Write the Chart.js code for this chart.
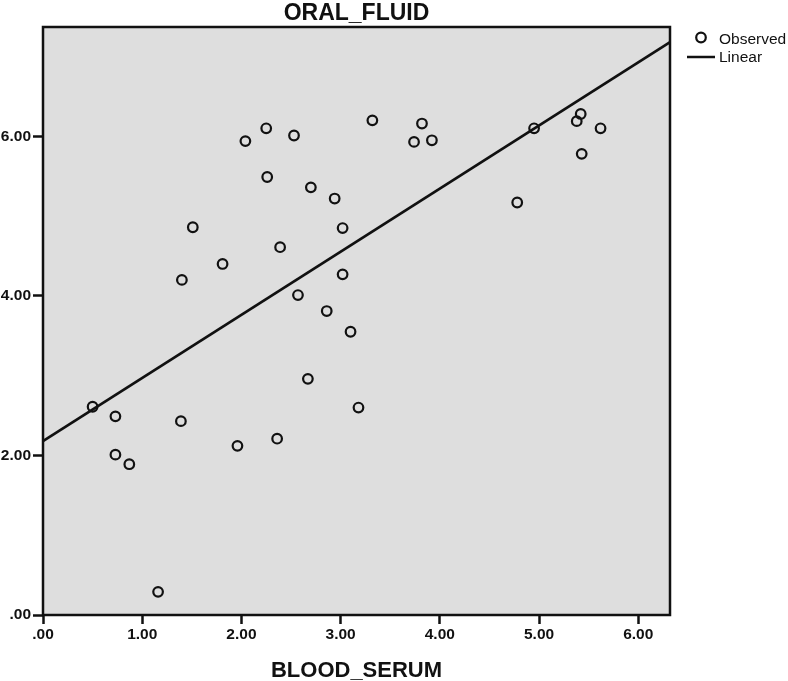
<!DOCTYPE html>
<html>
<head>
<meta charset="utf-8">
<script src="https://cdn.jsdelivr.net/npm/chart.js@4"></script>
<style>
  html, body { margin: 0; padding: 0; background: #fff; }
  #wrap { width: 788px; height: 681px; }
</style>
</head>
<body>
<div id="wrap"><canvas id="mycanvas"></canvas></div>
<script>
var blood_serum = [0.50, 0.73, 0.73, 0.87, 1.16, 1.39, 1.96, 2.36, 2.57, 2.86, 3.10, 2.67, 3.18,
	1.40, 2.04, 2.25, 2.53, 3.32, 3.82, 3.74, 3.92, 2.26, 2.70, 2.94, 1.51, 3.02, 2.39, 1.81, 3.02,
	4.95, 5.38, 5.42, 5.62, 5.43, 4.78];
var oral_fluid = [2.61, 2.49, 2.01, 1.89, 0.29, 2.43, 2.12, 2.21, 4.01, 3.81, 3.55, 2.96, 2.60,
	4.20, 5.94, 6.10, 6.01, 6.20, 6.16, 5.93, 5.95, 5.49, 5.36, 5.22, 4.86, 4.85, 4.61, 4.40, 4.27,
	6.10, 6.19, 6.28, 6.10, 5.78, 5.17];

// linear fit line (ends at the axis limits)
var linear_x = [0, 6.32];
var linear_y = [2.18, 7.18];

var x_ticks = [0, 1, 2, 3, 4, 5, 6];
var y_ticks = [0, 2, 4, 6];

var observed = [];
for (var i in blood_serum) {
	observed.push({x: blood_serum[i], y: oral_fluid[i]});
}
var linear = [];
for (var j in linear_x) {
	linear.push({x: linear_x[j], y: linear_y[j]});
}

function fmt(v) {
	return v === 0 ? '.00' : v.toFixed(2);
}

var FONT = '"Liberation Sans", Arial, sans-serif';

var frame = {
	id: 'frame',
	beforeDraw: function(chart) {
		var a = chart.chartArea, c = chart.ctx;
		c.save();
		c.fillStyle = '#dedede';
		c.fillRect(a.left, a.top, a.right - a.left, a.bottom - a.top);
		c.restore();
	},
	afterDraw: function(chart) {
		var a = chart.chartArea, c = chart.ctx;
		c.save();
		c.strokeStyle = '#111';
		c.lineWidth = 2.5;
		c.strokeRect(a.left, a.top, a.right - a.left, a.bottom - a.top);

		c.fillStyle = '#111';
		c.textAlign = 'center';
		c.textBaseline = 'alphabetic';
		c.font = 'bold 23px ' + FONT;
		c.fillText('ORAL_FLUID', (a.left + a.right) / 2, 20);
		c.font = 'bold 22px ' + FONT;
		c.fillText('BLOOD_SERUM', (a.left + a.right) / 2, 677);

		// legend
		c.lineWidth = 2.2;
		c.beginPath();
		c.arc(701, 37.5, 4.8, 0, Math.PI * 2);
		c.stroke();
		c.lineWidth = 2.5;
		c.beginPath();
		c.moveTo(687, 57);
		c.lineTo(715, 57);
		c.stroke();
		c.font = '15.5px ' + FONT;
		c.textAlign = 'left';
		c.textBaseline = 'middle';
		c.fillText('Observed', 719, 40);
		c.fillText('Linear', 719, 58);
		c.restore();
	}
};

var ctx = document.getElementById('mycanvas');

var chart = new Chart(ctx, {
	type: 'scatter',
	data: {
		datasets: [
			{
				label: 'Observed',
				data: observed,
				pointStyle: 'circle',
				pointRadius: 4.8,
				pointBorderWidth: 2.2,
				borderColor: '#111',
				backgroundColor: 'rgba(0,0,0,0)',
				order: 2
			},
			{
				label: 'Linear',
				type: 'line',
				data: linear,
				showLine: true,
				fill: false,
				borderColor: '#111',
				borderWidth: 2.5,
				pointRadius: 0,
				order: 1
			}
		]
	},
	plugins: [frame],
	options: {
		responsive: true,
		maintainAspectRatio: false,
		animation: false,
		events: [],
		layout: { padding: { left: 0, top: 27, right: 118, bottom: 35 } },
		plugins: {
			legend: { display: false },
			title: { display: false },
			tooltip: { enabled: false }
		},
		scales: {
			x: {
				type: 'linear',
				min: 0,
				max: 6.32,
				afterBuildTicks: function(scale) {
					scale.ticks = x_ticks.map(function(v) { return {value: v}; });
				},
				afterFit: function(scale) { scale.height = 31; },
				border: { display: false },
				grid: {
					drawOnChartArea: false,
					drawTicks: true,
					tickLength: 9,
					tickColor: '#111',
					tickWidth: 2.5
				},
				ticks: {
					padding: 1,
					color: '#111',
					font: { family: FONT, size: 15.5, weight: 'bold' },
					maxRotation: 0,
					callback: function(v) { return fmt(v); }
				}
			},
			y: {
				type: 'linear',
				min: 0,
				max: 7.37,
				afterBuildTicks: function(scale) {
					scale.ticks = y_ticks.map(function(v) { return {value: v}; });
				},
				afterFit: function(scale) { scale.width = 43; },
				border: { display: false },
				grid: {
					drawOnChartArea: false,
					drawTicks: true,
					tickLength: 10,
					tickColor: '#111',
					tickWidth: 2.5
				},
				ticks: {
					padding: 2,
					color: '#111',
					font: { family: FONT, size: 15.5, weight: 'bold' },
					callback: function(v) { return fmt(v); }
				}
			}
		}
	}
});
</script>
</body>
</html>
